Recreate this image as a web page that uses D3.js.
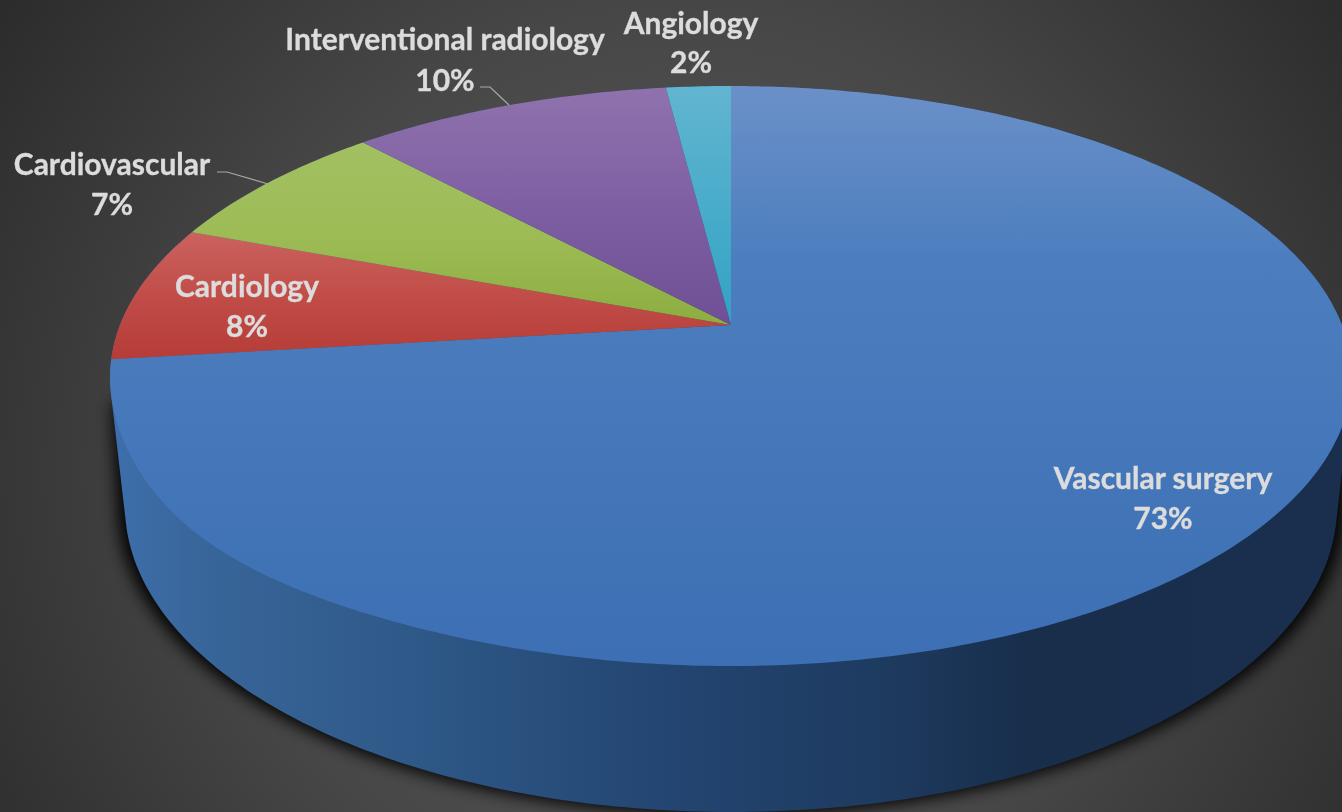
<!DOCTYPE html>
<html>
<head>
<meta charset="utf-8">
<script src="https://cdn.jsdelivr.net/npm/d3@7"></script>
<style>
html,body{margin:0;padding:0;background:#333;overflow:hidden}
svg{display:block}
text{font-family:Lato,"Open Sans",sans-serif;font-weight:700;fill:#dcdcdc;stroke:#dcdcdc;stroke-width:0.35px}
</style>
</head>
<body>
<svg id="chart" width="1342" height="812"></svg>
<script>
const categories = ["Vascular surgery","Cardiology","Cardiovascular","Interventional radiology","Angiology"];
const shares = [73.1,7.6,7.4,9.9,2];
const topColors = ["#6b90c7","#cb625e","#a3c062","#8f72ad","#62b5d0"];
const midColors = ["#4c7ebf","#c14d48","#9dbc56","#7f5fa3","#49acca"];
const bottomColors = ["#3c6fb3","#b63c37","#8dad40","#6f4f95","#33a2c4"];

const W = 1342, H = 812;
const svg = d3.select("#chart");
const defs = svg.append("defs");

// perspective disc: apex, back and front of the rim fix the projection
const apex = {x:731, y:325}, yBack = 86, yFront = 666, R = 611;
const c = -(yFront + yBack - 2*apex.y) / (yFront - yBack) ;
const a = yFront*(1+c) - apex.y;
function project(angle){
  const u = Math.sin(angle), v = -Math.cos(angle), d = 1 + c*v;
  // the reference's rim bulges slightly at the lower left
  const t = (angle - 3.95)/0.3, k = 1 + 0.017*Math.exp(-t*t);
  return [apex.x + k*R*u/d, apex.y + k*((a*v + apex.y)/d - apex.y)];
}
const bottom = {cx:731, cy:506, rx:606, ry:306};

const bg = defs.append("radialGradient").attr("id","bg")
  .attr("gradientUnits","userSpaceOnUse").attr("cx",680).attr("cy",470).attr("r",830);
[[0,"#5c5c5c"],[0.55,"#474747"],[1,"#2b2b2b"]].forEach(s=>bg.append("stop").attr("offset",s[0]).attr("stop-color",s[1]));
svg.append("rect").attr("width",W).attr("height",H).attr("fill","url(#bg)");

const blur = defs.append("filter").attr("id","shadow")
  .attr("x","-10%").attr("y","-10%").attr("width","120%").attr("height","120%");
blur.append("feGaussianBlur").attr("stdDeviation",8);

const soft = defs.append("filter").attr("id","soft");
soft.append("feGaussianBlur").attr("stdDeviation",0.45);

const arcs = d3.pie().sort(null).value(d=>d)(shares);
const tau = 2*Math.PI;
const rimAll = d3.range(0,360).map(i=>project(i/360*tau));
const bottomAll = d3.range(0,360).map(i=>{
  const t=i/360*tau; return [bottom.cx+bottom.rx*Math.sin(t), bottom.cy-bottom.ry*Math.cos(t)];
});
const hull = d3.polygonHull(rimAll.concat(bottomAll));
const line = d3.line().curve(d3.curveLinearClosed);

// ground shadow
svg.append("path")
  .attr("d", line(d3.polygonHull(bottomAll.map(p=>[p[0]+(p[0]-731)*0.012, p[1]+3]).concat(
     rimAll.filter(p=>p[1]>400).map(p=>[p[0],p[1]+4])))))
  .attr("fill","#000").attr("opacity",0.95).attr("filter","url(#shadow)");

// wall
const wallStops = [[0,"#3e6fab"],[0.08,"#386599"],[0.25,"#2e5887"],[0.45,"#234571"],[0.62,"#1e3b60"],[0.74,"#182e4b"],[1,"#1a2f4e"]];
const wallG = defs.append("linearGradient").attr("id","wall")
  .attr("gradientUnits","userSpaceOnUse").attr("x1",110).attr("x2",1352).attr("y1",0).attr("y2",0);
wallStops.forEach(s=>wallG.append("stop").attr("offset",s[0]).attr("stop-color",s[1]));
svg.append("path").attr("d",line(hull)).attr("fill","url(#wall)");

// top faces
arcs.forEach((d,i)=>{
  const g = defs.append("linearGradient").attr("id","slice"+i).attr("x1",0).attr("x2",0).attr("y1",0).attr("y2",1);
  const mid = i===0 ? 0.3 : 0.5;
  g.append("stop").attr("offset",0).attr("stop-color",topColors[i]);
  g.append("stop").attr("offset",mid).attr("stop-color",midColors[i]);
  g.append("stop").attr("offset",1).attr("stop-color",bottomColors[i]);
});
svg.append("g").selectAll("path").data(arcs).join("path")
  .attr("d",d=>{
    const n = Math.max(8,Math.ceil((d.endAngle-d.startAngle)*80));
    const pts = d3.range(n+1).map(k=>project(d.startAngle+(d.endAngle-d.startAngle)*k/n));
    pts.push([apex.x,apex.y]);
    return line(pts);
  })
  .attr("fill",(d,i)=>`url(#slice${i})`);

// leader lines
const leaderPaths = {2:[[217,172],[227,172],[268,184]], 3:[[480,87],[490,87],[509,105]]};
Object.keys(leaderPaths).forEach(k=>{
  svg.append("path").attr("d",d3.line()(leaderPaths[k])).attr("fill","none")
    .attr("stroke","#a8a8a8").attr("stroke-width",1.2);
});

// labels
const labelPos = [[1163,489,529],[247,297,337],[112,175,215],[445,50,91],[691,34,73]];
const labels = svg.append("g").attr("text-anchor","middle").attr("font-size",30).attr("filter","url(#soft)");
categories.forEach((name,i)=>{
  const p = labelPos[i];
  labels.append("text").attr("x",p[0]).attr("y",p[1]).text(name);
  labels.append("text").attr("x",p[0]).attr("y",p[2]).text(d3.format(".0%")(shares[i]/100));
});
</script>
</body>
</html>
